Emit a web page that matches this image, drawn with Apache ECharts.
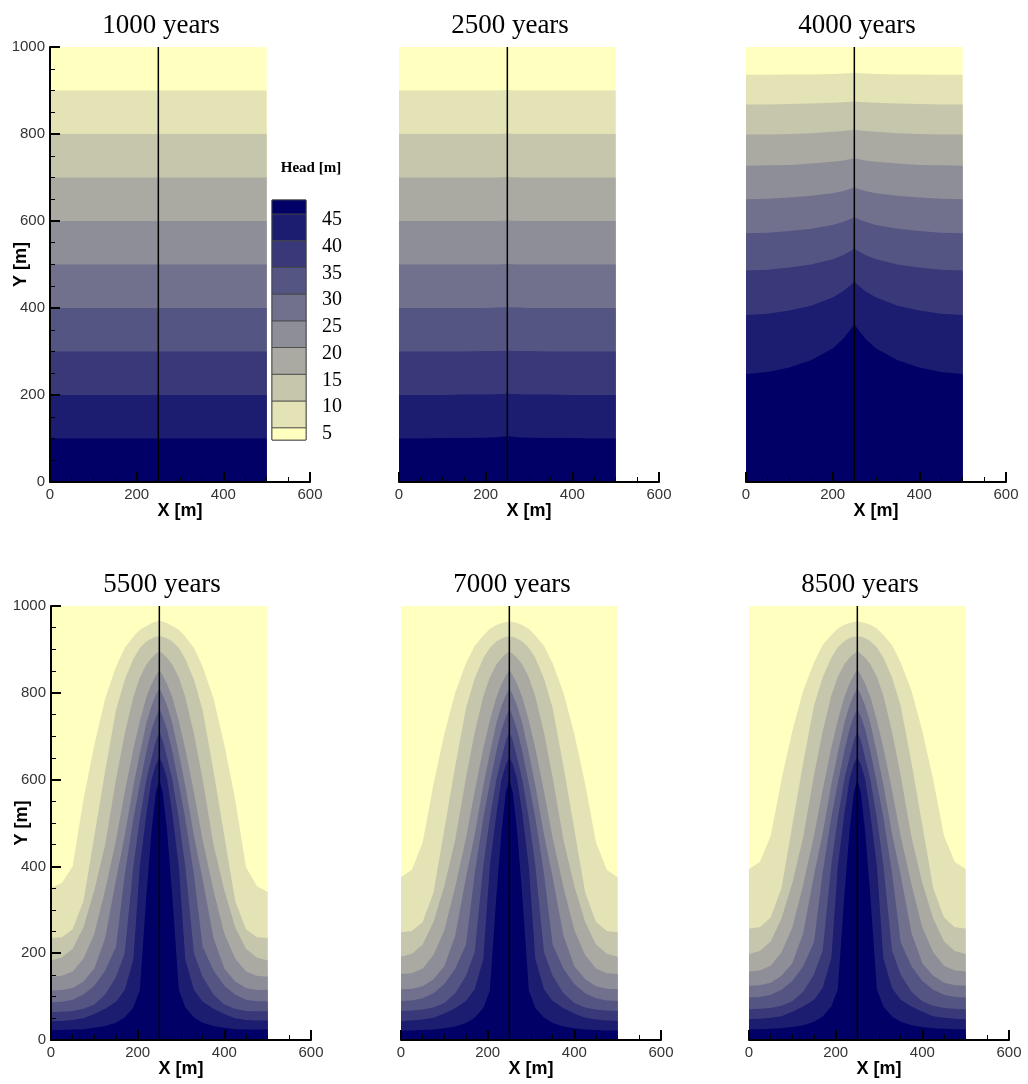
<!DOCTYPE html>
<html>
<head>
<meta charset="utf-8">
<script src="https://cdn.jsdelivr.net/npm/echarts@6/dist/echarts.min.js"></script>
<style>
html,body{margin:0;padding:0;background:#fff;}
#chart{width:1028px;height:1084px;}
</style>
</head>
<body>
<div id="chart"></div>
<script>
// ---------------- data ----------------
const PANEL_TITLES = ['1000 years', '2500 years', '4000 years', '5500 years', '7000 years', '8500 years'];
const HEAD_LEVELS = [5, 10, 15, 20, 25, 30, 35, 40, 45];
const COLORBAR_RANGE = [2.7, 47.6];
const BAND_COLORS = ['#FFFFC0', '#E3E3B6', '#C6C6AC', '#AAAAA2', '#8E8E98', '#71718E', '#555584', '#39397A', '#1C1C70', '#000066'];
const DOMAIN_X = [0, 500];
const DOMAIN_TOP = 1000;
const WELL_X = 250;

// x positions where contour boundaries were read
const X_FLAT = [0, 500];
const X_TOP = [0, 50, 100, 150, 200, 225, 250, 275, 300, 350, 400, 450, 500];
const X_BOT = [0, 25, 50, 75, 100, 125, 150, 170, 190, 205, 220, 232, 242, 250, 258, 268, 280, 295, 310, 330, 350, 375, 400, 425, 450, 475, 500];

// y of contour boundaries h = 5, 10, ..., 45 (m)
const P1_BOUNDS = [
  [900, 900], [800, 800], [700, 700], [600, 600], [500, 500],
  [400, 400], [300, 300], [200, 200], [100, 100]
];
const P2_BOUNDS = [
  [900, 900, 900, 900, 900, 900, 901, 900, 900, 900, 900, 900, 900],
  [800, 800, 800, 800, 800, 800, 801, 800, 800, 800, 800, 800, 800],
  [700, 700, 700, 700, 700, 700, 701, 700, 700, 700, 700, 700, 700],
  [600, 600, 600, 600, 600, 600, 601, 600, 600, 600, 600, 600, 600],
  [500, 500, 500, 500, 500, 500, 501, 500, 500, 500, 500, 500, 500],
  [400, 400, 400, 400, 400, 401, 402, 401, 400, 400, 400, 400, 400],
  [300, 300, 300, 300, 301, 301, 302, 301, 301, 300, 300, 300, 300],
  [200, 200, 200, 201, 201, 202, 203, 202, 201, 201, 200, 200, 200],
  [100, 100, 101, 101, 102, 103, 105, 103, 102, 101, 101, 100, 100]
];
const P3_BOUNDS = [
  [936, 936, 937, 937, 938, 939, 940, 939, 938, 937, 937, 936, 936],
  [868, 868, 869, 870, 872, 873, 875, 873, 872, 870, 869, 868, 868],
  [799, 799, 800, 802, 805, 807, 810, 807, 805, 802, 800, 799, 799],
  [727, 728, 729, 732, 736, 739, 744, 739, 736, 732, 729, 728, 727],
  [650, 651, 654, 658, 664, 669, 677, 669, 664, 658, 654, 651, 650],
  [572, 573, 577, 582, 591, 598, 608, 598, 591, 582, 577, 573, 572],
  [486, 488, 493, 500, 512, 522, 536, 522, 512, 500, 493, 488, 486],
  [384, 387, 394, 405, 424, 439, 460, 439, 424, 405, 394, 387, 384],
  [248, 253, 263, 280, 307, 330, 362, 330, 307, 280, 263, 253, 248]
];
const P4_BOUNDS = [
  [351, 362, 400, 555, 680, 787, 860, 903, 929, 945, 954, 960, 964, 966, 964, 960, 954, 945, 929, 903, 860, 787, 680, 555, 398, 355, 341],
  [235, 237, 255, 320, 470, 620, 760, 830, 878, 903, 918, 925, 929, 931, 929, 925, 918, 903, 878, 830, 760, 620, 470, 320, 255, 237, 235],
  [183, 190, 210, 260, 345, 450, 600, 705, 790, 835, 865, 880, 890, 895, 890, 880, 865, 835, 790, 705, 600, 450, 345, 260, 210, 190, 183],
  [146, 148, 158, 188, 245, 345, 460, 570, 670, 735, 790, 820, 840, 852, 840, 820, 790, 735, 670, 570, 460, 345, 245, 188, 158, 148, 146],
  [114, 115, 120, 135, 165, 235, 370, 470, 585, 660, 730, 770, 795, 810, 795, 770, 730, 660, 585, 470, 370, 235, 165, 135, 120, 115, 116],
  [87, 88, 93, 105, 125, 160, 215, 380, 510, 590, 665, 715, 745, 764, 745, 715, 665, 590, 510, 380, 215, 160, 125, 105, 93, 89, 89],
  [64, 65, 67, 72, 82, 105, 145, 200, 400, 510, 600, 650, 690, 710, 690, 650, 600, 510, 400, 200, 145, 105, 82, 72, 67, 66, 66],
  [43, 44, 46, 50, 60, 72, 88, 115, 185, 400, 520, 600, 635, 652, 635, 600, 520, 400, 185, 115, 88, 72, 60, 50, 46, 45, 45],
  [23, 23, 24, 25, 28, 32, 40, 52, 75, 115, 330, 480, 570, 600, 570, 480, 330, 115, 75, 52, 40, 32, 28, 25, 24, 24, 24]
];
const P5_BOUNDS = [
  [375, 392, 455, 590, 705, 800, 868, 908, 932, 947, 956, 961, 963, 964, 963, 961, 956, 947, 932, 908, 868, 800, 705, 590, 455, 392, 375],
  [248, 251, 272, 340, 485, 630, 765, 833, 880, 904, 918, 925, 929, 930, 929, 925, 918, 904, 880, 833, 765, 630, 485, 340, 272, 251, 248],
  [192, 199, 220, 272, 355, 460, 605, 708, 792, 836, 865, 880, 890, 895, 890, 880, 865, 836, 792, 708, 605, 460, 355, 272, 220, 199, 192],
  [152, 154, 165, 196, 253, 352, 465, 573, 672, 736, 790, 820, 840, 853, 840, 820, 790, 736, 672, 573, 465, 352, 253, 196, 165, 154, 152],
  [117, 118, 124, 140, 170, 240, 375, 473, 587, 661, 730, 770, 795, 810, 795, 770, 730, 661, 587, 473, 375, 240, 170, 140, 124, 118, 117],
  [90, 91, 96, 108, 129, 164, 220, 383, 512, 591, 665, 715, 745, 764, 745, 715, 665, 591, 512, 383, 220, 164, 129, 108, 96, 91, 90],
  [67, 68, 70, 75, 85, 108, 148, 203, 402, 511, 600, 650, 690, 710, 690, 650, 600, 511, 402, 203, 148, 108, 85, 75, 70, 68, 67],
  [44, 45, 47, 51, 61, 73, 90, 117, 187, 400, 520, 600, 635, 652, 635, 600, 520, 400, 187, 117, 90, 73, 61, 51, 47, 45, 44],
  [22, 22, 23, 24, 27, 31, 39, 51, 74, 114, 330, 480, 570, 600, 570, 480, 330, 114, 74, 51, 39, 31, 27, 24, 23, 22, 22]
];
const P6_BOUNDS = [
  [394, 410, 470, 600, 712, 805, 870, 910, 933, 948, 957, 961, 963, 964, 963, 961, 957, 948, 933, 910, 870, 805, 712, 600, 470, 410, 394],
  [257, 260, 282, 350, 495, 638, 770, 836, 881, 905, 919, 926, 929, 930, 929, 926, 919, 905, 881, 836, 770, 638, 495, 350, 282, 260, 257],
  [198, 205, 227, 280, 362, 467, 610, 711, 794, 837, 866, 881, 890, 896, 890, 881, 866, 837, 794, 711, 610, 467, 362, 280, 227, 205, 198],
  [158, 160, 171, 202, 259, 358, 470, 576, 674, 737, 791, 821, 841, 855, 841, 821, 791, 737, 674, 576, 470, 358, 259, 202, 171, 160, 158],
  [125, 126, 132, 148, 177, 246, 380, 476, 589, 662, 731, 771, 796, 810, 796, 771, 731, 662, 589, 476, 380, 246, 177, 148, 132, 126, 125],
  [98, 99, 104, 116, 136, 170, 225, 386, 514, 592, 666, 716, 746, 764, 746, 716, 666, 592, 514, 386, 225, 170, 136, 116, 104, 99, 98],
  [71, 72, 74, 79, 89, 111, 151, 206, 404, 512, 601, 651, 691, 710, 691, 651, 601, 512, 404, 206, 151, 111, 89, 79, 74, 72, 71],
  [48, 49, 51, 55, 65, 77, 93, 120, 189, 402, 521, 601, 636, 652, 636, 601, 521, 402, 189, 120, 93, 77, 65, 55, 51, 49, 48],
  [25, 25, 26, 27, 30, 34, 42, 54, 77, 117, 332, 481, 571, 600, 571, 481, 332, 117, 77, 54, 42, 34, 30, 27, 26, 25, 25]
];

const PANEL_X = [X_FLAT, X_TOP, X_TOP, X_BOT, X_BOT, X_BOT];
const PANEL_BOUNDS = [P1_BOUNDS, P2_BOUNDS, P3_BOUNDS, P4_BOUNDS, P5_BOUNDS, P6_BOUNDS];

// ---------------- layout ----------------
const GRID_POS = [
  { left: 50, top: 47, height: 435 },
  { left: 399, top: 47, height: 435 },
  { left: 746, top: 47, height: 435 },
  { left: 51, top: 606, height: 434 },
  { left: 401, top: 606, height: 434 },
  { left: 749, top: 606, height: 434 }
];
const GRID_W = 260;
const SANS = 'Liberation Sans';
const SERIF = 'Liberation Serif';

const grids = [], xAxes = [], yAxes = [], series = [], titles = [];

GRID_POS.forEach((g, i) => {
  grids.push({ left: g.left, top: g.top, width: GRID_W, height: g.height, containLabel: false, outerBoundsMode: 'none' });
  titles.push({
    text: PANEL_TITLES[i], left: g.left + 111, top: g.top - 35, textAlign: 'center', padding: 0,
    textStyle: { fontFamily: SERIF, fontSize: 27, fontWeight: 'normal', color: '#000' }
  });
  const axisCommon = {
    gridIndex: i, type: 'value', z: 5,
    axisLine: { show: true, onZero: false, lineStyle: { color: '#000', width: 2 } },
    axisTick: { show: true, inside: true, length: 10, lineStyle: { color: '#000', width: 2 } },
    minorTick: { show: true, splitNumber: 4, length: 5, lineStyle: { color: '#000', width: 1 } },
    splitLine: { show: false },
    axisLabel: { fontFamily: SANS, fontSize: 15, color: '#333', margin: 5, formatter: v => String(v) },
    nameMoveOverlap: false,
    nameTextStyle: { fontFamily: SANS, fontSize: 18, fontWeight: 'bold', color: '#000' }
  };
  xAxes.push(Object.assign({}, axisCommon, {
    min: 0, max: 600, interval: 200, name: 'X [m]', nameLocation: 'middle', nameGap: 20
  }));
  const showY = (i === 0 || i === 3);
  yAxes.push(Object.assign({}, axisCommon, {
    show: showY, min: 0, max: 1000, interval: 200, name: 'Y [m]', nameLocation: 'middle', nameGap: 20, nameRotate: 90
  }));

  // background: lowest head band (< 5 m)
  series.push({
    type: 'line', xAxisIndex: i, yAxisIndex: i, silent: true, symbol: 'none',
    data: DOMAIN_X.map(x => [x, DOMAIN_TOP]),
    lineStyle: { width: 0 }, areaStyle: { color: BAND_COLORS[0], opacity: 1 }
  });
  const xs = PANEL_X[i];
  PANEL_BOUNDS[i].forEach((ys, k) => {
    series.push({
      type: 'line', xAxisIndex: i, yAxisIndex: i, silent: true, symbol: 'none',
      name: 'h' + HEAD_LEVELS[k],
      data: xs.map((x, j) => [x, ys[j]]),
      lineStyle: { width: 0 }, areaStyle: { color: BAND_COLORS[k + 1], opacity: 1 }
    });
  });
  // well line
  series.push({
    type: 'line', xAxisIndex: i, yAxisIndex: i, silent: true, symbol: 'none',
    data: [[WELL_X, 0], [WELL_X, DOMAIN_TOP]],
    lineStyle: { color: '#000', width: 1.5 }
  });
});

// ---------------- colour bar ----------------
const CB = GRID_POS.length;
grids.push({ left: 272, top: 200, width: 34, height: 240, show: true, borderColor: '#333', borderWidth: 1, backgroundColor: 'transparent', containLabel: false, outerBoundsMode: 'none' });
xAxes.push({ gridIndex: CB, type: 'value', min: 0, max: 1, show: false });
yAxes.push({
  gridIndex: CB, type: 'value', position: 'right', min: COLORBAR_RANGE[0], max: COLORBAR_RANGE[1],
  axisLine: { show: false }, axisTick: { show: false }, splitLine: { show: false },
  axisLabel: { customValues: HEAD_LEVELS, fontFamily: SERIF, fontSize: 20, color: '#000', margin: 16, verticalAlign: 'top', lineHeight: 12 }
});
const cbEdges = [COLORBAR_RANGE[0]].concat(HEAD_LEVELS, [COLORBAR_RANGE[1]]);
const cbAreas = [];
for (let j = 0; j < cbEdges.length - 1; j++) {
  cbAreas.push([
    { yAxis: cbEdges[j], itemStyle: { color: BAND_COLORS[j], borderColor: '#444', borderWidth: 0.8 } },
    { yAxis: cbEdges[j + 1] }
  ]);
}
series.push({
  type: 'line', xAxisIndex: CB, yAxisIndex: CB, silent: true, symbol: 'none',
  data: [[0, COLORBAR_RANGE[0]]], lineStyle: { opacity: 0 },
  markArea: { silent: true, data: cbAreas }
});
titles.push({
  text: 'Head [m]', left: 311, top: 161, textAlign: 'center', padding: 0,
  textStyle: { fontFamily: SERIF, fontSize: 15, fontWeight: 'bold', color: '#000' }
});

const chart = echarts.init(document.getElementById('chart'), null, { renderer: 'canvas' });
chart.setOption({
  animation: false,
  backgroundColor: '#fff',
  title: titles,
  grid: grids,
  xAxis: xAxes,
  yAxis: yAxes,
  series: series
});
</script>
</body>
</html>
